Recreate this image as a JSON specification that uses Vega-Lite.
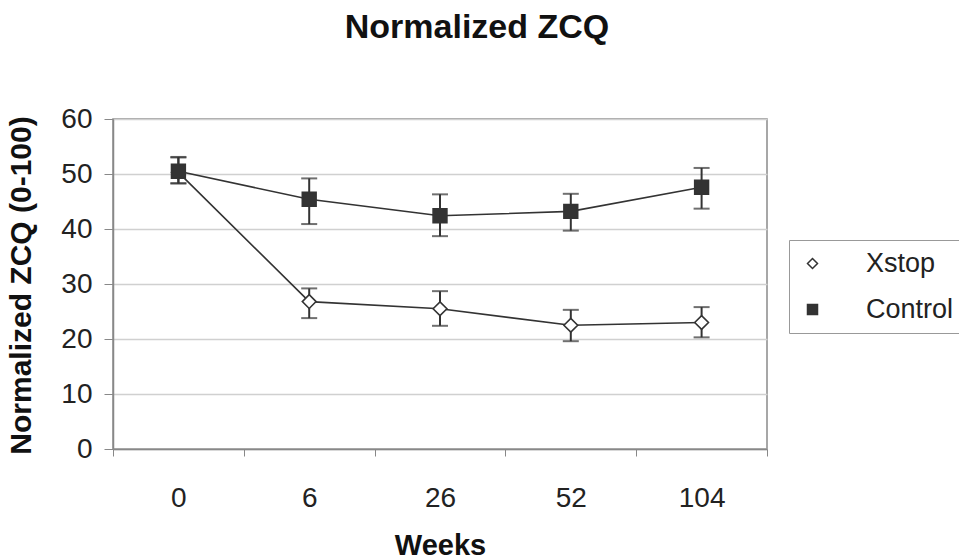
{
  "$schema": "https://vega.github.io/schema/vega-lite/v6.json",
  "width": 654,
  "height": 330,
  "autosize": "none",
  "padding": {"left": 113, "top": 119, "right": 192, "bottom": 110},
  "background": "white",
  "config": {
    "font": "Liberation Sans",
    "view": {"stroke": "#8a8a8a", "strokeWidth": 1.5}
  },
  "title": {
    "text": "Normalized ZCQ",
    "fontSize": 34,
    "fontWeight": "bold",
    "font": "Liberation Sans",
    "color": "#111",
    "anchor": "middle",
    "offset": 60,
    "dx": 37
  },
  "data": {
    "values": [
      {"week": "0", "group": "Xstop", "mean": 50.3, "lo": 48.3, "hi": 53.0},
      {"week": "6", "group": "Xstop", "mean": 26.8, "lo": 23.8, "hi": 29.2},
      {"week": "26", "group": "Xstop", "mean": 25.5, "lo": 22.4, "hi": 28.7},
      {"week": "52", "group": "Xstop", "mean": 22.5, "lo": 19.6, "hi": 25.3},
      {"week": "104", "group": "Xstop", "mean": 23.0, "lo": 20.3, "hi": 25.8},
      {"week": "0", "group": "Control", "mean": 50.5, "lo": 48.3, "hi": 53.1},
      {"week": "6", "group": "Control", "mean": 45.4, "lo": 40.9, "hi": 49.2},
      {"week": "26", "group": "Control", "mean": 42.4, "lo": 38.7, "hi": 46.3},
      {"week": "52", "group": "Control", "mean": 43.2, "lo": 39.7, "hi": 46.4},
      {"week": "104", "group": "Control", "mean": 47.6, "lo": 43.7, "hi": 51.1}
    ]
  },
  "encoding": {
    "x": {
      "field": "week",
      "type": "ordinal",
      "sort": ["0", "6", "26", "52", "104"],
      "bandPosition": 0.5,
      "scale": {"type": "band", "paddingInner": 0, "paddingOuter": 0},
      "title": "Weeks",
      "axis": {
        "labelAngle": 0,
        "tickBand": "extent",
        "tickSize": 7,
        "tickColor": "#888",
        "domainColor": "#888",
        "domainWidth": 1.5,
        "labelFontSize": 28,
        "labelColor": "#222",
        "labelPadding": 28,
        "titleFontSize": 29,
        "titleFontWeight": "bold",
        "titleColor": "#111",
        "titleBaseline": "alphabetic",
        "titleY": 105,
        "titleX": 327
      }
    }
  },
  "layer": [
    {
      "mark": {"type": "line", "color": "#333", "strokeWidth": 1.6},
      "encoding": {
        "y": {
          "field": "mean",
          "type": "quantitative",
          "scale": {"domain": [0, 60]},
          "title": "Normalized ZCQ (0-100)",
          "axis": {
            "values": [0, 10, 20, 30, 40, 50, 60],
            "grid": true,
            "gridColor": "#d0d0d0",
            "gridWidth": 1.5,
            "tickSize": 9,
            "tickColor": "#888",
            "domainColor": "#888",
            "domainWidth": 1.5,
            "labelFontSize": 28,
            "labelColor": "#222",
            "labelPadding": 12,
            "titleFontSize": 30,
            "titleFontWeight": "bold",
            "titleColor": "#111",
            "titleAngle": -90,
            "titleBaseline": "alphabetic",
            "titleAlign": "center",
            "titleX": -83,
            "titleY": 166
          }
        },
        "detail": {"field": "group"}
      }
    },
    {
      "mark": {"type": "rule", "color": "#333", "strokeWidth": 2},
      "encoding": {
        "y": {"field": "lo", "type": "quantitative"},
        "y2": {"field": "hi"}
      }
    },
    {
      "mark": {"type": "tick", "color": "#333", "thickness": 2, "size": 16},
      "encoding": {"y": {"field": "lo", "type": "quantitative"}}
    },
    {
      "mark": {"type": "tick", "color": "#333", "thickness": 2, "size": 16},
      "encoding": {"y": {"field": "hi", "type": "quantitative"}}
    },
    {
      "mark": {"type": "point", "filled": false, "stroke": "#333", "strokeWidth": 1.6, "opacity": 1, "size": 190},
      "encoding": {
        "y": {"field": "mean", "type": "quantitative"},
        "shape": {
          "field": "group",
          "type": "nominal",
          "scale": {"domain": ["Xstop", "Control"], "range": ["diamond", "square"]},
          "legend": {
            "title": null,
            "orient": "none",
            "legendX": 676,
            "legendY": 121,
            "padding": 10,
            "strokeColor": "#999",
            "fillColor": "white",
            "labelFontSize": 27,
            "labelColor": "#222",
            "labelOffset": 40,
            "rowPadding": 18,
            "symbolSize": 100,
            "encode": {
              "symbols": {
                "shape": {"value": {"expr": "datum.value === 'Xstop' ? 'M-2.6,0H2.2M4.2,0H9.6M2.2,0L3.2,-1L4.2,0L3.2,1Z' : 'M-2.6,0H1.8M4.6,0H9.6M1.8,-1.4H4.6V1.4H1.8Z'"}},
                "size": {"value": 100},
                "stroke": {"value": "#333"},
                "strokeWidth": {"value": 1.6}
              }
            }
          }
        },
        "fill": {
          "field": "group",
          "type": "nominal",
          "scale": {"domain": ["Xstop", "Control"], "range": ["white", "#333"]},
          "legend": {
            "title": null,
            "orient": "none",
            "legendX": 676,
            "legendY": 121,
            "padding": 10,
            "strokeColor": "#999",
            "fillColor": "white",
            "labelFontSize": 27,
            "labelColor": "#222",
            "labelOffset": 40,
            "rowPadding": 18,
            "symbolSize": 100,
            "encode": {
              "symbols": {
                "shape": {"value": {"expr": "datum.value === 'Xstop' ? 'M-2.6,0H2.2M4.2,0H9.6M2.2,0L3.2,-1L4.2,0L3.2,1Z' : 'M-2.6,0H1.8M4.6,0H9.6M1.8,-1.4H4.6V1.4H1.8Z'"}},
                "size": {"value": 100},
                "stroke": {"value": "#333"},
                "strokeWidth": {"value": 1.6}
              }
            }
          }
        }
      }
    }
  ]
}
